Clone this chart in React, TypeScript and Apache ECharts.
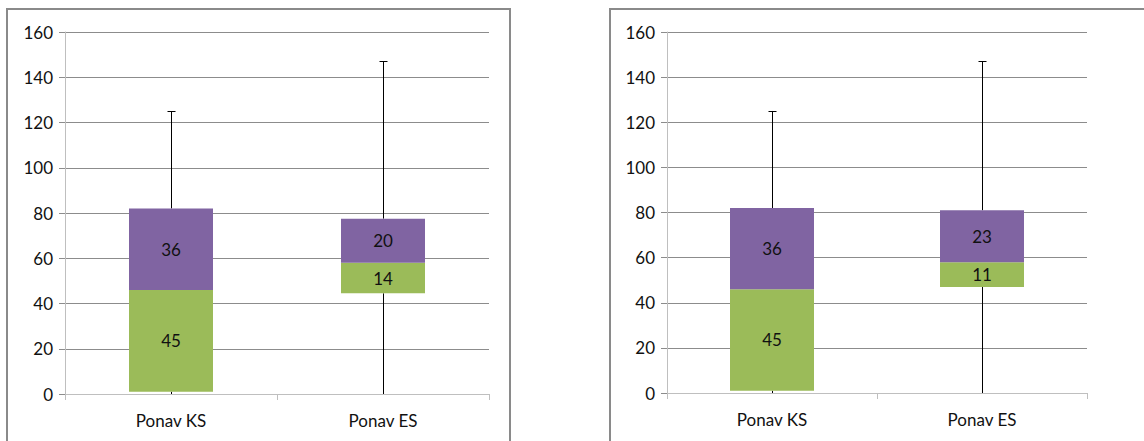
import React, { useEffect, useRef } from "react";
import * as echarts from "echarts";

const categories = ["Ponav KS", "Ponav ES"];
const yTicks = { min: 0, max: 160, interval: 20 };

// Left panel
const leftQ1 = [1, 44.5];
const leftLowerBox = [45, 13.5];
const leftUpperBox = [36, 19.5];
const leftMin = [0, 0];
const leftMax = [125, 147];

// Right panel
const rightQ1 = [1, 47];
const rightLowerBox = [45, 11];
const rightUpperBox = [36, 23];
const rightMin = [0, 0];
const rightMax = [125, 147];

const GREEN = "#9BBB59";
const PURPLE = "#8064A2";
const GRID = "#8C8C8C";
const AXIS = "#BFBFBF";
const FONT = "Lato";

function whiskerData(q1: number[], lower: number[], upper: number[], mn: number[], mx: number[]) {
  return categories.map((_, i) => [i, mn[i], q1[i], q1[i] + lower[i] + upper[i], mx[i]]);
}

function renderWhisker(params: any, api: any) {
  const i = api.value(0);
  const pMin = api.coord([i, api.value(1)]);
  const pQ1 = api.coord([i, api.value(2)]);
  const pQ3 = api.coord([i, api.value(3)]);
  const pMax = api.coord([i, api.value(4)]);
  const x = Math.round(pMin[0]) + 0.5;
  const style = { stroke: "#000", lineWidth: 1 };
  return {
    type: "group",
    children: [
      { type: "line", shape: { x1: x, y1: pQ3[1], x2: x, y2: pMax[1] }, style },
      { type: "line", shape: { x1: x - 4, y1: Math.round(pMax[1]) + 0.5, x2: x + 4, y2: Math.round(pMax[1]) + 0.5 }, style },
      { type: "line", shape: { x1: x, y1: pQ1[1], x2: x, y2: pMin[1] }, style },
    ],
  };
}

function panelSeries(idx: number, q1: number[], lower: number[], upper: number[], mn: number[], mx: number[]) {
  const stack = "box" + idx;
  const label = {
    show: true,
    position: "inside",
    color: "#111",
    fontFamily: FONT,
    fontSize: 17,
    formatter: (p: any) => String(Math.round(p.value)),
  };
  return [
    {
      type: "custom",
      xAxisIndex: idx,
      yAxisIndex: idx,
      renderItem: renderWhisker,
      data: whiskerData(q1, lower, upper, mn, mx),
      z: 1,
      silent: true,
    },
    {
      type: "bar",
      xAxisIndex: idx,
      yAxisIndex: idx,
      stack,
      barWidth: 84,
      itemStyle: { color: "transparent" },
      data: q1,
      z: 2,
      silent: true,
    },
    {
      type: "bar",
      xAxisIndex: idx,
      yAxisIndex: idx,
      stack,
      barWidth: 84,
      itemStyle: { color: GREEN },
      label,
      data: lower,
      z: 2,
    },
    {
      type: "bar",
      xAxisIndex: idx,
      yAxisIndex: idx,
      stack,
      barWidth: 84,
      itemStyle: { color: PURPLE },
      label,
      data: upper,
      z: 2,
    },
  ];
}

function xAxis(idx: number) {
  return {
    type: "category",
    gridIndex: idx,
    data: categories,
    axisLine: { show: true, lineStyle: { color: AXIS, width: 1 } },
    axisTick: { show: true, length: 6, lineStyle: { color: AXIS } },
    axisLabel: { color: "#111", fontFamily: FONT, fontSize: 17, margin: 18 },
    splitLine: { show: false },
  };
}

function yAxis(idx: number) {
  return {
    type: "value",
    gridIndex: idx,
    min: yTicks.min,
    max: yTicks.max,
    interval: yTicks.interval,
    axisLine: { show: true, lineStyle: { color: AXIS, width: 1 } },
    axisTick: { show: true, length: 6, lineStyle: { color: GRID } },
    axisLabel: { color: "#111", fontFamily: FONT, fontSize: 17, margin: 12 },
    splitLine: { show: true, lineStyle: { color: GRID, width: 1 } },
  };
}

export default function App() {
  const ref = useRef<HTMLDivElement>(null);
  useEffect(() => {
    if (!ref.current) return;
    const chart = echarts.init(ref.current, undefined, { renderer: "svg" });
    chart.setOption({
      animation: false,
      backgroundColor: "#fff",
      textStyle: { fontFamily: FONT },
      grid: [
        { left: 65, top: 32, width: 424, height: 362 },
        { left: 667, top: 32, width: 420, height: 361 },
      ],
      xAxis: [xAxis(0), xAxis(1)],
      yAxis: [yAxis(0), yAxis(1)],
      graphic: [
        {
          type: "rect",
          shape: { x: 7, y: 9, width: 503, height: 500 },
          style: { fill: "none", stroke: "#8A8A8A", lineWidth: 2 },
          z: 10,
          silent: true,
        },
        {
          type: "rect",
          shape: { x: 610, y: 9, width: 600, height: 500 },
          style: { fill: "none", stroke: "#8A8A8A", lineWidth: 2 },
          z: 10,
          silent: true,
        },
      ],
      series: [
        ...panelSeries(0, leftQ1, leftLowerBox, leftUpperBox, leftMin, leftMax),
        ...panelSeries(1, rightQ1, rightLowerBox, rightUpperBox, rightMin, rightMax),
      ],
    });
    return () => chart.dispose();
  }, []);
  return (
    <div
      ref={ref}
      style={{ position: "fixed", left: 0, top: 0, width: 1144, height: 441, background: "#fff" }}
    />
  );
}
